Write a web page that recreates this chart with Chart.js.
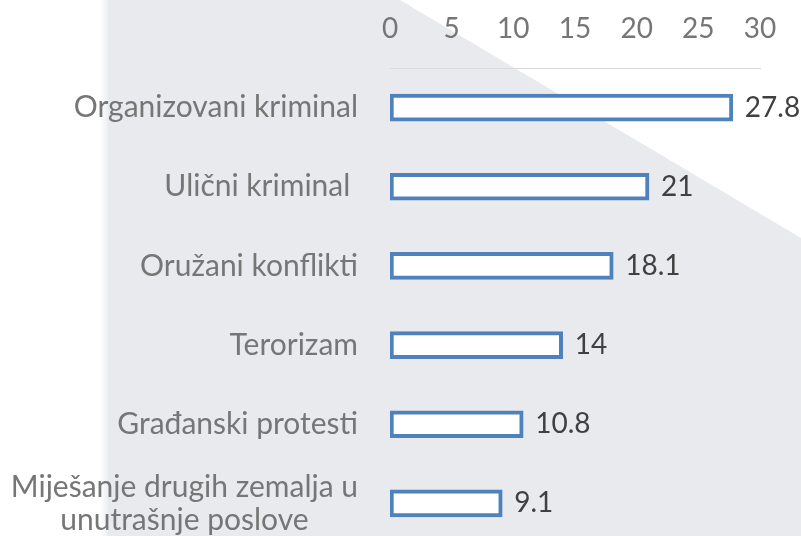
<!DOCTYPE html>
<html>
<head>
<meta charset="utf-8">
<script src="https://cdn.jsdelivr.net/npm/chart.js@4/dist/chart.umd.min.js"></script>
<style>
    html, body { margin: 0; padding: 0; background: #fff; }
    #wrap { width: 801px; height: 536px; overflow: hidden; position: relative; }
    #chart { display: block; }
</style>
</head>
<body>
<div id="wrap"><canvas id="chart" width="801" height="552"></canvas></div>
<script>
'use strict';

const categories = [
    'Organizovani kriminal',
    'Ulični kriminal ',
    'Oružani konflikti',
    'Terorizam',
    'Građanski protesti',
    ['Miješanje drugih zemalja u', 'unutrašnje poslove']
];
const values = [27.8, 21, 18.1, 14, 10.8, 9.1];
const axisMin = 0;
const axisMax = 30;
const axisStep = 5;

const FONT = 'Lato, "Open Sans", sans-serif';

// light grey slide background with a white wedge top right
const backgroundPlugin = {
    id: 'slideBackground',
    beforeDraw(chart) {
        const ctx = chart.ctx;
        const w = chart.width, h = chart.height;
        ctx.save();
        ctx.fillStyle = '#ffffff';
        ctx.fillRect(0, 0, w, h);
        ctx.fillStyle = '#e8eaee';
        ctx.beginPath();
        ctx.moveTo(108, 0);
        ctx.lineTo(400, 0);
        ctx.lineTo(w, 238);
        ctx.lineTo(w, h);
        ctx.lineTo(108, h);
        ctx.closePath();
        ctx.fill();
        // soft edge on the left side
        const g = ctx.createLinearGradient(100, 0, 110, 0);
        g.addColorStop(0, 'rgba(232,234,238,0)');
        g.addColorStop(1, 'rgba(232,234,238,1)');
        ctx.fillStyle = g;
        ctx.fillRect(100, 0, 10, h);
        ctx.restore();
    }
};

// category names, right aligned as a block, lines centred inside it
const categoryLabelPlugin = {
    id: 'categoryLabels',
    afterDraw(chart) {
        const ctx = chart.ctx;
        const yScale = chart.scales.y;
        const right = chart.chartArea.left - 32;
        const lineH = 33;
        ctx.save();
        ctx.font = '30px ' + FONT;
        ctx.fillStyle = '#767676';
        ctx.textBaseline = 'middle';
        categories.forEach(function (cat, i) {
            const lines = Array.isArray(cat) ? cat : [cat];
            const y = yScale.getPixelForValue(i);
            if (lines.length === 1) {
                ctx.textAlign = 'right';
                ctx.fillText(lines[0], right, y);
                return;
            }
            const widest = Math.max.apply(null, lines.map(function (l) { return ctx.measureText(l).width; }));
            const cx = right - widest / 2;
            ctx.textAlign = 'center';
            lines.forEach(function (l, j) {
                ctx.fillText(l, cx, y + (j - (lines.length - 1) / 2) * lineH);
            });
        });
        ctx.restore();
    }
};

// value labels at the end of each bar
const valueLabelPlugin = {
    id: 'valueLabels',
    afterDatasetsDraw(chart) {
        const ctx = chart.ctx;
        const meta = chart.getDatasetMeta(0);
        ctx.save();
        ctx.font = '28px ' + FONT;
        ctx.fillStyle = '#404040';
        ctx.textAlign = 'left';
        ctx.textBaseline = 'middle';
        meta.data.forEach(function (bar, i) {
            ctx.fillText(String(values[i]), bar.x + 12, bar.y);
        });
        ctx.restore();
    }
};

const ctx = document.getElementById('chart').getContext('2d');
new Chart(ctx, {
    type: 'bar',
    data: {
        labels: categories,
        datasets: [{
            data: values,
            backgroundColor: '#ffffff',
            borderColor: '#4f81bd',
            borderWidth: 4,
            borderSkipped: false,
            barThickness: 27
        }]
    },
    options: {
        indexAxis: 'y',
        responsive: false,
        animation: false,
        layout: { padding: { left: 390, right: 41, top: 0, bottom: 9 } },
        plugins: {
            legend: { display: false },
            tooltip: { enabled: false }
        },
        scales: {
            x: {
                position: 'top',
                min: axisMin,
                max: axisMax,
                afterFit: function (scale) { scale.height = 68; },
                grid: { display: false, drawTicks: false },
                border: { display: true, color: '#d9d9d9', width: 1 },
                ticks: {
                    stepSize: axisStep,
                    padding: 22,
                    color: '#767676',
                    font: { family: FONT, size: 28 }
                }
            },
            y: {
                display: false
            }
        }
    },
    plugins: [backgroundPlugin, categoryLabelPlugin, valueLabelPlugin]
});
</script>
</body>
</html>
